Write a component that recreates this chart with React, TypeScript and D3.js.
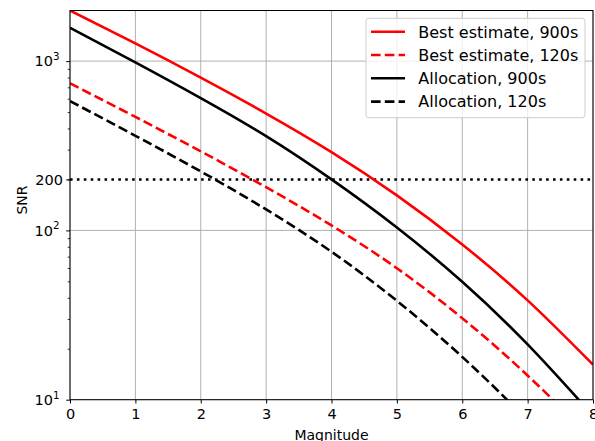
import { axisBottom, axisLeft, curveNatural, line, range, scaleLinear, scaleLog, select } from "d3";
import { useEffect, useRef } from "react";

// magnitudes sampled along the x axis
const magnitudes = [0, 1, 2, 3, 4, 5, 6, 7, 8];

// SNR curves (values below 10 are clipped away)
const bestEstimate900 = [1990, 1271, 798, 490, 290, 161, 82.6, 38.6, 16.1];
const bestEstimate120 = [739, 468, 293, 180, 107, 59.8, 30.3, 13.9, 5.8];
const allocation900 = [1575, 982, 604, 360, 200, 104, 49.7, 21.2, 8.05];
const allocation120 = [581, 362, 223, 133, 74.8, 38.4, 17.9, 7.5, 2.84];

const threshold = 200;
const xTicks = [0, 1, 2, 3, 4, 5, 6, 7, 8];
const yMajor = [10, 100, 1000];
const yExponents = ["1", "2", "3"];

const series = [
  { name: "Best estimate, 900s", values: bestEstimate900, color: "#ff0000", dash: null },
  { name: "Best estimate, 120s", values: bestEstimate120, color: "#ff0000", dash: "9.6,4.2" },
  { name: "Allocation, 900s", values: allocation900, color: "#000000", dash: null },
  { name: "Allocation, 120s", values: allocation120, color: "#000000", dash: "9.6,4.2" },
];

const WIDTH = 595;
const HEIGHT = 441;
const margin = { left: 70, right: 2, top: 10.5, bottom: 41.3 };
const FONT = "DejaVu Sans, sans-serif";
const LW = 2.6;
const TICK_FONT = 14.5;

function SnrChart() {
  const svgRef = useRef<SVGSVGElement>(null);

  useEffect(() => {
    const svg = select(svgRef.current);
    svg.selectAll("*").remove();

    const x0 = margin.left;
    const x1 = WIDTH - margin.right;
    const y0 = HEIGHT - margin.bottom;
    const y1 = margin.top;

    const xScale = scaleLinear().domain([0, 8]).range([x0, x1]);
    const yScale = scaleLog().domain([10, bestEstimate900[0]]).range([y0, y1]);

    svg
      .append("defs")
      .append("clipPath")
      .attr("id", "plot-clip")
      .append("rect")
      .attr("x", x0)
      .attr("y", y1)
      .attr("width", x1 - x0)
      .attr("height", y0 - y1);

    // grid
    const grid = svg.append("g").attr("stroke", "#b0b0b0").attr("stroke-width", 1);
    grid
      .selectAll(".vgrid")
      .data(xTicks)
      .join("line")
      .attr("x1", (d) => xScale(d))
      .attr("x2", (d) => xScale(d))
      .attr("y1", y1)
      .attr("y2", y0);
    grid
      .selectAll(".hgrid")
      .data(yMajor)
      .join("line")
      .attr("x1", x0)
      .attr("x2", x1)
      .attr("y1", (d) => yScale(d))
      .attr("y2", (d) => yScale(d));

    const plot = svg.append("g").attr("clip-path", "url(#plot-clip)");

    // threshold line
    plot
      .append("line")
      .attr("x1", x0)
      .attr("x2", x1)
      .attr("y1", yScale(threshold))
      .attr("y2", yScale(threshold))
      .attr("stroke", "#000")
      .attr("stroke-width", LW)
      .attr("stroke-dasharray", "2.6,4.3");

    const lineGen = line<number>()
      .x((_, i) => xScale(magnitudes[i]))
      .y((d) => yScale(d))
      .curve(curveNatural);

    plot
      .selectAll(".curve")
      .data(series)
      .join("path")
      .attr("d", (s) => lineGen(s.values))
      .attr("fill", "none")
      .attr("stroke", (s) => s.color)
      .attr("stroke-width", LW)
      .attr("stroke-dasharray", (s) => s.dash);

    // x axis
    const xAxis = svg
      .append("g")
      .attr("transform", `translate(0,${y0})`)
      .call(axisBottom(xScale).tickValues(xTicks).tickSize(3.8).tickPadding(5).tickFormat((d) => `${d}`));
    xAxis.select(".domain").remove();
    xAxis.selectAll("line").attr("stroke-width", 1);
    xAxis.selectAll("text").attr("font-family", FONT).attr("font-size", TICK_FONT).attr("fill", "#000");

    // y axis: minor ticks, then major ticks with labels
    const minor = range(2, 10).map((d) => d * 10).concat(range(2, 10).map((d) => d * 100));
    const yMinor = svg
      .append("g")
      .attr("transform", `translate(${x0},0)`)
      .call(axisLeft(yScale).tickValues(minor).tickSize(2.3).tickFormat(() => ""));
    yMinor.select(".domain").remove();
    yMinor.selectAll("line").attr("stroke-width", 0.8);

    const yAxis = svg
      .append("g")
      .attr("transform", `translate(${x0},0)`)
      .call(axisLeft(yScale).tickValues([...yMajor, threshold]).tickSize(3.8).tickPadding(4.5).tickFormat(() => ""));
    yAxis.select(".domain").remove();
    yAxis.selectAll("line").attr("stroke-width", 1);

    const yLabels = svg.append("g").attr("font-family", FONT).attr("font-size", TICK_FONT).attr("text-anchor", "end");
    yMajor.forEach((v, i) => {
      const t = yLabels
        .append("text")
        .attr("x", x0 - 10.5)
        .attr("y", yScale(v) + 5.3);
      t.append("tspan").text("10");
      t.append("tspan").attr("font-size", 10.3).attr("dy", -6.2).text(yExponents[i]);
    });
    yLabels
      .append("text")
      .attr("x", x0 - 7)
      .attr("y", yScale(threshold) + 5.3)
      .text(`${threshold}`);

    // frame
    svg
      .append("rect")
      .attr("x", x0)
      .attr("y", y1)
      .attr("width", x1 - x0)
      .attr("height", y0 - y1)
      .attr("fill", "none")
      .attr("stroke", "#000")
      .attr("stroke-width", 1);

    // axis titles
    svg
      .append("text")
      .attr("x", (x0 + x1) / 2)
      .attr("y", 440.2)
      .attr("text-anchor", "middle")
      .attr("font-family", FONT)
      .attr("font-size", 14)
      .text("Magnitude");
    svg
      .append("text")
      .attr("transform", `translate(26.7,200) rotate(-90)`)
      .attr("text-anchor", "middle")
      .attr("font-family", FONT)
      .attr("font-size", 14)
      .text("SNR");

    // legend
    const legend = svg.append("g");
    legend
      .append("rect")
      .attr("x", 366)
      .attr("y", 18.3)
      .attr("width", 219)
      .attr("height", 99.4)
      .attr("rx", 3)
      .attr("fill", "#fff")
      .attr("fill-opacity", 0.8)
      .attr("stroke", "#cccccc")
      .attr("stroke-width", 1);
    const rows = legend
      .selectAll(".row")
      .data(series)
      .join("g")
      .attr("transform", (_, i) => `translate(0,${31.7 + i * 23.3})`);
    rows
      .append("line")
      .attr("x1", 371)
      .attr("x2", 405)
      .attr("stroke", (s) => s.color)
      .attr("stroke-width", LW)
      .attr("stroke-dasharray", (s) => s.dash);
    rows
      .append("text")
      .attr("x", 418.3)
      .attr("y", 5.8)
      .attr("font-family", FONT)
      .attr("font-size", 16)
      .text((s) => s.name);
  }, []);

  return <svg ref={svgRef} width={WIDTH} height={HEIGHT} style={{ position: "absolute", left: 0, top: 0, background: "#fff" }} />;
}

export default function App() {
  return <SnrChart />;
}
